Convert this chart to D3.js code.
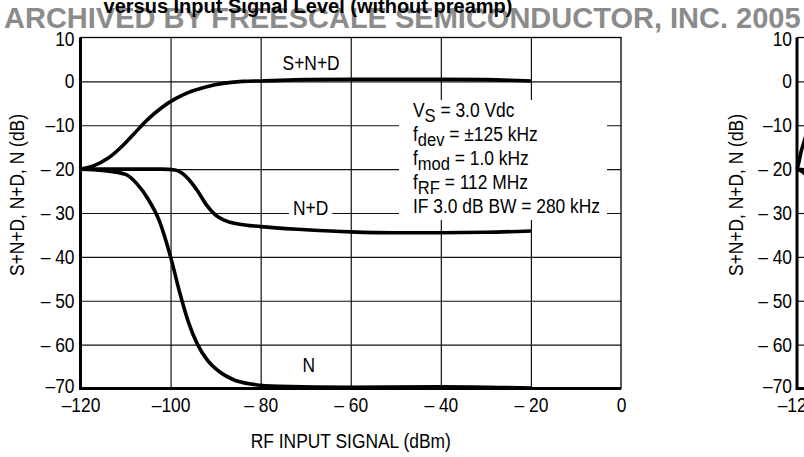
<!DOCTYPE html>
<html>
<head>
<meta charset="utf-8">
<script src="https://cdn.jsdelivr.net/npm/d3@7"></script>
<style>
  body { margin: 0; background: #fff; }
  svg { display: block; font-family: "Liberation Sans", Arial, sans-serif; }
</style>
</head>
<body>
<div id="chart"></div>
<script>
// values: x = RF input (dBm), y = level (dB)
const xTicks = [-120, -100, -80, -60, -40, -20, 0];
const xTickLabels = ["–120", "–100", "– 80", "– 60", "– 40", "– 20", "0"];
const yTicks = [10, 0, -10, -20, -30, -40, -50, -60, -70];
const yTickLabels = ["10", "0", "–10", "– 20", "– 30", "– 40", "– 50", "– 60", "–70"];

const sndCurve = [[-120, -20], [-117, -19.2], [-114, -17.6], [-111, -15], [-108, -11.8], [-105, -8.6],
  [-102, -6], [-99, -4], [-96, -2.5], [-92, -1.2], [-88, -0.4], [-84, 0], [-80, 0.1],
  [-70, 0.4], [-60, 0.5], [-40, 0.5], [-30, 0.4], [-20, 0.1]];
const ndCurve = [[-120, -20], [-110, -20], [-102, -20], [-99, -20.2], [-97.5, -20.9], [-96, -22.3],
  [-94, -25], [-92, -28.2], [-90, -30.5], [-88, -31.7], [-85, -32.5], [-80, -33.1], [-70, -33.8],
  [-60, -34.3], [-50, -34.5], [-40, -34.5], [-30, -34.4], [-20, -34.1]];
const nCurve = [[-120, -20], [-115, -20.3], [-110, -21.2], [-107.5, -23.3], [-105, -26.8], [-102.5, -31.8],
  [-100, -40], [-98, -48], [-96, -55], [-94, -60], [-92, -63.3], [-89, -66.3], [-86, -68], [-82, -69],
  [-76, -69.5], [-60, -69.7], [-40, -69.6], [-20, -69.9]];

// the next figure on the page, only its left edge shows
const rightSnd = [[-120, -20], [-119.6, -18.5], [-119.2, -16.5], [-118.5, -14], [-117.9, -12], [-117, -9.5]];
const rightNd = [[-120, -20], [-118, -20.2], [-115, -20.3]];
const rightN = [[-120, -20], [-119, -20.5], [-118, -21.3], [-117, -22.5]];

const curveLabels = [
  { text: "S+N+D", x: -68.8, y: 2.6 },
  { text: "N+D", x: -68.9, y: -30.4 },
  { text: "N", x: -69.3, y: -66.2 }
];
const legendLines = [
  { main: "V", sub: "S", rest: " = 3.0 Vdc" },
  { main: "f", sub: "dev", rest: " = ±125 kHz" },
  { main: "f", sub: "mod", rest: " = 1.0 kHz" },
  { main: "f", sub: "RF", rest: " = 112 MHz" },
  { main: "IF 3.0 dB BW = 280 kHz", sub: "", rest: "" }
];

const W = 804, H = 457;
const plot = { left: 80.5, right: 621, top: 37.5, bottom: 388.5 };
const fs = 20;
const sx = 0.87; // condensed face look

// squeeze text horizontally around its anchor point
function squeeze(sel) {
  sel.each(function () {
    const t = d3.select(this);
    const tx = +t.attr("x") || 0, ty = +t.attr("y") || 0;
    const prev = t.attr("transform") || "";
    t.attr("x", null).attr("y", null)
      .attr("transform", `${prev} translate(${tx},${ty}) scale(${sx},1)`);
  });
}

const svg = d3.select("#chart").append("svg")
  .attr("width", W).attr("height", H);

const x = d3.scaleLinear().domain([-120, 0]).range([plot.left, plot.right]);
const y = d3.scaleLinear().domain([-70, 10]).range([plot.bottom, plot.top]);
const xR = d3.scaleLinear().domain([-120, 0]).range([797, 797 + (plot.right - plot.left)]);

// grid
svg.append("g")
  .attr("transform", `translate(0,${plot.bottom})`)
  .call(d3.axisBottom(x).tickValues(xTicks.slice(1, -1)).tickSize(-(plot.bottom - plot.top)).tickFormat(""))
  .call(g => g.select(".domain").remove())
  .selectAll("line").attr("stroke", "#111").attr("stroke-width", 1.2);

svg.append("g")
  .attr("transform", `translate(${plot.left},0)`)
  .call(d3.axisLeft(y).tickValues(yTicks.slice(1, -1)).tickSize(-(plot.right - plot.left)).tickFormat(""))
  .call(g => g.select(".domain").remove())
  .selectAll("line").attr("stroke", "#111").attr("stroke-width", 1.2);

// white box behind the conditions text
svg.append("rect")
  .attr("x", 399).attr("y", 100).attr("width", 208).attr("height", 120)
  .attr("fill", "#fff");

// curves
const line = d3.line().x(d => x(d[0])).y(d => y(d[1])).curve(d3.curveMonotoneX);
[sndCurve, ndCurve, nCurve].forEach(c => {
  svg.append("path").datum(c)
    .attr("fill", "none").attr("stroke", "#000").attr("stroke-width", 3.6)
    .attr("d", line);
});

// frame
svg.append("rect")
  .attr("x", plot.left).attr("y", plot.top)
  .attr("width", plot.right - plot.left).attr("height", plot.bottom - plot.top)
  .attr("fill", "none").attr("stroke", "#000").attr("stroke-width", 1.3);
svg.append("path")
  .attr("d", `M${plot.left},${plot.top}V${plot.bottom}H${plot.right}`)
  .attr("fill", "none").attr("stroke", "#000").attr("stroke-width", 3);

// tick labels
const yAxis = svg.append("g")
  .attr("transform", `translate(${plot.left},0)`)
  .call(d3.axisLeft(y).tickValues(yTicks).tickSize(0).tickPadding(6).tickFormat((d, i) => yTickLabels[i]))
  .call(g => g.select(".domain").remove())
  .attr("font-family", null).attr("font-size", fs);
yAxis.selectAll("text").attr("fill", "#000")
  .attr("y", d => d === 10 ? 2 : d === -70 ? -2 : 0)
  .call(squeeze);

svg.append("g")
  .attr("transform", `translate(0,${plot.bottom})`)
  .call(d3.axisBottom(x).tickValues(xTicks).tickSize(0).tickPadding(9).tickFormat((d, i) => xTickLabels[i]))
  .call(g => g.select(".domain").remove())
  .attr("font-family", null).attr("font-size", fs)
  .selectAll("text").attr("fill", "#000")
  .call(squeeze);

// axis titles
svg.append("text")
  .attr("x", (plot.left + plot.right) / 2).attr("y", 448)
  .attr("text-anchor", "middle").attr("font-size", fs)
  .text("RF INPUT SIGNAL (dBm)")
  .call(squeeze);

svg.append("text")
  .attr("transform", "translate(24,195) rotate(-90)")
  .attr("text-anchor", "middle").attr("font-size", fs)
  .text("S+N+D, N+D, N (dB)")
  .call(squeeze);

// curve labels
curveLabels.forEach(d => {
  const cx = x(d.x), cy = y(d.y);
  const t = svg.append("text")
    .attr("x", cx).attr("y", cy)
    .attr("text-anchor", "middle").attr("font-size", fs)
    .text(d.text)
    .call(squeeze);
  if (d.text === "N+D") {
    const b = t.node().getBBox();
    svg.insert("rect", () => t.node())
      .attr("x", cx + b.x * sx - 4).attr("y", cy + b.y)
      .attr("width", b.width * sx + 8).attr("height", b.height)
      .attr("fill", "#fff");
  }
});

// test conditions
const legend = svg.append("text")
  .attr("transform", `translate(413,0) scale(${sx},1)`)
  .attr("font-size", fs);
legendLines.forEach((d, i) => {
  const base = 117.5 + i * 23.8;
  legend.append("tspan").attr("x", 0).attr("y", base).text(d.main);
  if (d.sub) {
    legend.append("tspan").attr("y", base + 5).attr("font-size", fs - 1).text(d.sub);
    legend.append("tspan").attr("y", base).text(d.rest);
  }
});

// left edge of the neighbouring figure
const right = svg.append("g");
right.append("g")
  .attr("transform", `translate(797,0)`)
  .call(d3.axisLeft(y).tickValues(yTicks.slice(1, -1)).tickSize(-20).tickFormat(""))
  .call(g => g.select(".domain").remove())
  .selectAll("line").attr("stroke", "#111").attr("stroke-width", 1.2);
right.append("path")
  .attr("d", `M${W + 5},${plot.top}H797`)
  .attr("stroke", "#000").attr("stroke-width", 1.3);
const lineR = d3.line().x(d => xR(d[0])).y(d => y(d[1])).curve(d3.curveMonotoneX);
[rightSnd, rightNd, rightN].forEach(c => {
  right.append("path").datum(c)
    .attr("fill", "none").attr("stroke", "#000").attr("stroke-width", 3.6)
    .attr("d", lineR);
});
right.append("path")
  .attr("d", `M797,${plot.top}V${plot.bottom}H${W + 5}`)
  .attr("fill", "none").attr("stroke", "#000").attr("stroke-width", 3);
right.append("g")
  .attr("transform", "translate(797,0)")
  .call(d3.axisLeft(y).tickValues(yTicks).tickSize(0).tickPadding(5).tickFormat((d, i) => yTickLabels[i]))
  .call(g => g.select(".domain").remove())
  .attr("font-family", null).attr("font-size", fs)
  .selectAll("text").attr("fill", "#000")
  .attr("y", d => d === 10 ? 2 : d === -70 ? -2 : 0)
  .call(squeeze);
right.append("text")
  .attr("x", 797).attr("y", 412)
  .attr("text-anchor", "middle").attr("font-size", fs)
  .text(xTickLabels[0])
  .call(squeeze);
right.append("text")
  .attr("transform", "translate(743,195) rotate(-90)")
  .attr("text-anchor", "middle").attr("font-size", fs)
  .text("S+N+D, N+D, N (dB)")
  .call(squeeze);

// title (cut at the top) and archive stamp
svg.append("text")
  .attr("x", 4).attr("y", 28)
  .attr("font-weight", "bold").attr("font-size", 29)
  .attr("fill", "#8b8b8b")
  .text("ARCHIVED BY FREESCALE SEMICONDUCTOR, INC. 2005");
svg.append("text")
  .attr("x", 308).attr("y", 12.5)
  .attr("text-anchor", "middle")
  .attr("font-weight", "bold").attr("font-size", 20)
  .attr("fill", "#000")
  .text("versus Input Signal Level (without preamp)");
</script>
</body>
</html>
